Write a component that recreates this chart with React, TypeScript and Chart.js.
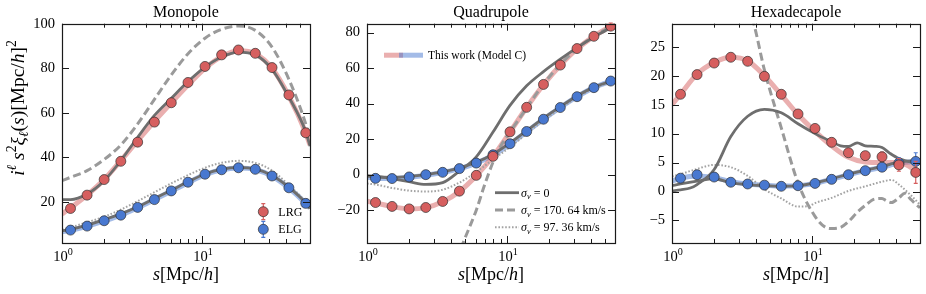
import React, { useEffect, useRef } from 'react';
import { Chart, registerables } from 'chart.js';

Chart.register(...registerables);

const SERIF = '"Liberation Serif", "DejaVu Serif", "Times New Roman", serif';

// ---------- separation bins (s in Mpc/h) ----------
const S_BINS = [1.15, 1.51, 2.0, 2.63, 3.47, 4.57, 6.03, 7.94, 10.5, 13.8, 18.2, 24.0, 31.6, 41.7, 55.0];
const S_CURVE = [1.0, 1.15, 1.51, 2.0, 2.63, 3.47, 4.57, 6.03, 7.94, 10.5, 13.8, 18.2, 24.0, 31.6, 41.7, 55.0, 59.0];

// ---------- Monopole ----------
const MONO_LRG_DATA = [17.0, 23.0, 30.0, 38.2, 46.8, 55.8, 64.5, 73.6, 80.8, 86.0, 88.2, 86.7, 80.3, 68.0, 51.0];
const MONO_LRG_ERR = [0.6, 0.6, 0.6, 0.6, 0.6, 0.6, 0.7, 0.7, 0.7, 0.8, 0.8, 0.9, 1.0, 1.1, 1.3];
const MONO_ELG_DATA = [7.3, 9.1, 11.5, 14.0, 17.5, 21.0, 24.9, 28.8, 32.4, 34.4, 35.3, 34.6, 31.6, 26.3, 19.3];
const MONO_ELG_ERR = [0.3, 0.3, 0.3, 0.3, 0.3, 0.3, 0.4, 0.4, 0.4, 0.4, 0.5, 0.5, 0.6, 0.8, 1.4];
const MONO_LRG_MODEL = [14.5, 17.3, 23.0, 30.0, 38.5, 47.5, 56.2, 64.5, 72.5, 80.0, 85.2, 87.8, 86.5, 80.0, 67.5, 51.0, 45.5];
const MONO_ELG_MODEL = [6.5, 7.2, 9.0, 11.4, 14.0, 17.3, 21.0, 24.8, 28.6, 32.2, 34.4, 35.2, 34.5, 31.5, 26.2, 19.3, 17.2];
const MONO_LRG_SV0 = [21.0, 21.0, 23.5, 29.5, 38.5, 49.0, 58.8, 66.5, 74.0, 80.5, 85.0, 87.2, 86.0, 79.5, 67.0, 51.5, 45.0];
const MONO_ELG_SV0 = [7.0, 7.6, 9.5, 12.0, 14.6, 17.8, 21.5, 25.2, 29.0, 32.5, 34.7, 35.5, 34.8, 31.8, 26.5, 19.5, 17.0];
const MONO_LRG_SV170 = [29.5, 31.0, 34.0, 39.0, 45.5, 55.0, 66.0, 77.0, 86.5, 93.5, 97.5, 99.0, 97.0, 89.5, 75.0, 55.0, 48.0];
const MONO_ELG_SV97 = [7.5, 8.5, 10.8, 13.3, 16.5, 20.3, 24.3, 28.3, 32.0, 35.3, 37.5, 38.4, 37.5, 34.0, 27.5, 20.0, 17.5];

// ---------- Quadrupole ----------
const QUAD_LRG_DATA = [-15.7, -17.9, -19.3, -18.5, -15.1, -9.3, -0.4, 10.3, 24.1, 37.9, 50.8, 61.7, 71.0, 77.9, 83.6];
const QUAD_LRG_ERR = [0.8, 0.8, 0.8, 0.8, 0.8, 0.8, 0.9, 0.9, 1.0, 1.0, 1.1, 1.2, 1.3, 1.5, 1.8];
const QUAD_ELG_DATA = [-2.1, -2.2, -1.3, 0.0, 1.3, 3.4, 6.5, 11.2, 17.4, 24.3, 31.2, 37.8, 43.9, 49.0, 52.7];
const QUAD_ELG_ERR = [0.5, 0.5, 0.5, 0.5, 0.5, 0.5, 0.6, 0.6, 0.6, 0.7, 0.7, 0.8, 0.9, 1.0, 1.3];
const QUAD_LRG_MODEL = [-15.0, -15.9, -18.0, -19.3, -18.6, -15.3, -9.5, -0.6, 10.3, 24.0, 37.8, 50.6, 61.6, 70.8, 77.9, 83.6, 85.0];
const QUAD_ELG_MODEL = [-1.5, -2.0, -2.2, -1.5, -0.3, 1.2, 3.4, 6.5, 11.0, 17.2, 24.2, 31.2, 37.8, 43.9, 49.0, 52.6, 53.4];
const QUAD_LRG_SV0 = [-0.5, -1.0, -2.3, -4.0, -5.5, -4.5, 2.0, 10.0, 24.0, 39.0, 50.0, 58.0, 65.0, 71.5, 77.5, 83.0, 85.0];
const QUAD_ELG_SV0 = [-0.8, -1.2, -1.5, -1.0, 0.0, 1.5, 3.8, 7.0, 11.5, 17.8, 24.7, 31.8, 38.3, 44.3, 49.3, 52.5, 53.3];
const QUAD_ELG_SV97 = [-5.0, -5.6, -7.5, -9.0, -9.5, -8.5, -4.5, 1.5, 8.5, 15.5, 23.0, 30.5, 37.0, 43.5, 48.5, 52.0, 52.6];
const QUAD_SV170_S = [4.4, 4.85, 5.5, 6.03, 6.9, 7.94, 9.0, 10.5, 13.8, 18.2, 24.0, 31.6, 41.7, 55.0, 59.0];
const QUAD_LRG_SV170 = [-48.0, -38.5, -28.0, -20.0, -6.0, 7.0, 16.0, 24.0, 37.5, 51.0, 62.0, 71.0, 78.0, 83.5, 85.0];

// ---------- Hexadecapole ----------
const HEXA_LRG_DATA = [16.8, 20.2, 22.2, 23.2, 22.5, 19.9, 16.8, 13.4, 10.9, 8.5, 6.7, 6.2, 6.0, 4.6, 3.3];
const HEXA_LRG_ERR = [0.4, 0.4, 0.4, 0.4, 0.4, 0.4, 0.4, 0.5, 0.5, 0.6, 0.6, 0.7, 0.8, 1.1, 1.9];
const HEXA_ELG_DATA = [2.3, 2.9, 2.5, 1.6, 1.3, 1.1, 0.9, 1.0, 1.4, 2.1, 2.9, 3.6, 4.2, 4.9, 5.2];
const HEXA_ELG_ERR = [0.3, 0.3, 0.3, 0.3, 0.3, 0.3, 0.3, 0.3, 0.3, 0.4, 0.4, 0.5, 0.6, 0.9, 1.5];
const HEXA_LRG_MODEL = [15.0, 16.8, 20.3, 22.3, 23.2, 22.6, 20.0, 16.7, 13.3, 10.4, 7.9, 5.9, 5.1, 5.0, 5.0, 3.6, 3.0];
const HEXA_ELG_MODEL = [1.8, 2.3, 2.7, 2.4, 1.7, 1.3, 1.1, 0.95, 1.0, 1.4, 2.1, 2.9, 3.6, 4.2, 4.9, 5.2, 5.3];
const HEXA_ELG_SV0 = [1.0, 1.3, 1.8, 2.2, 1.5, 1.2, 1.0, 0.9, 1.0, 1.5, 2.2, 3.0, 3.7, 4.3, 5.1, 5.3, 5.3];
const HEXA_LRG_SV0_S = [1.0, 1.15, 1.35, 1.51, 2.0, 2.63, 3.47, 4.57, 6.03, 7.94, 10.5, 13.8, 16.0, 18.2, 21.0, 24.0, 28.0, 31.6, 36.0, 41.7, 55.0, 59.0];
const HEXA_LRG_SV0 = [0.1, 0.3, 0.6, 1.2, 3.8, 9.5, 13.0, 14.2, 13.6, 11.7, 10.0, 8.6, 7.9, 7.8, 8.4, 7.9, 7.8, 7.6, 6.6, 5.7, 4.9, 4.8];
const HEXA_SV170_S = [3.5, 3.84, 4.57, 6.03, 7.94, 10.5, 12.5, 13.8, 16.0, 18.2, 21.0, 24.0, 28.0, 31.6, 34.0, 37.0, 41.7, 46.0, 50.0, 55.0, 59.0];
const HEXA_LRG_SV170 = [32.0, 29.0, 21.0, 11.0, 1.5, -4.3, -6.2, -6.4, -6.2, -5.2, -3.6, -2.4, -1.3, -1.2, -1.6, -1.9, -1.1, -0.3, -1.2, -2.2, -2.8];
const HEXA_SV97_S = [1.0, 1.15, 1.51, 2.0, 2.63, 3.47, 4.57, 6.03, 7.94, 9.5, 10.5, 13.8, 18.2, 24.0, 31.6, 37.0, 41.7, 50.0, 55.0, 59.0];
const HEXA_ELG_SV97 = [2.6, 3.0, 3.9, 4.6, 4.2, 2.7, 0.4, -1.2, -2.6, -2.5, -2.0, -1.1, 0.1, 0.9, 1.7, 2.0, 1.2, -0.5, -1.5, -2.3];

// ---------- labels ----------
const PANEL_TITLES = ['Monopole', 'Quadrupole', 'Hexadecapole'];
const TRACER_LABELS = ['LRG', 'ELG'];
const MODEL_LABEL = 'This work (Model C)';
const SIGMA_VALUES = ['0', '170. 64 km/s', '97. 36 km/s'];

// ---------- styles ----------
const RED = '#D65F5F';
const BLUE = '#4878D0';
const RED_BAND = 'rgba(214,95,95,0.5)';
const BLUE_BAND = 'rgba(72,120,208,0.5)';
const GRAY_SOLID = '#6e6e6e';
const GRAY_DASH = '#9a9a9a';
const GRAY_DOT = '#a3a3a3';
const EDGE = 'rgba(45,45,45,0.85)';

type Kind = 'red' | 'blue' | 'solid' | 'dash' | 'dot';

function xy(xs: number[], ys: number[]) {
  return xs.map((x, i) => ({ x, y: ys[i] }));
}

function lineStyle(kind: Kind) {
  switch (kind) {
    case 'red': return { borderColor: RED_BAND, borderWidth: 5, borderDash: [] as number[], order: 2 };
    case 'blue': return { borderColor: BLUE_BAND, borderWidth: 5, borderDash: [] as number[], order: 2 };
    case 'solid': return { borderColor: GRAY_SOLID, borderWidth: 2.8, borderDash: [] as number[], order: 1 };
    case 'dash': return { borderColor: GRAY_DASH, borderWidth: 3, borderDash: [8, 4], order: 1 };
    default: return { borderColor: GRAY_DOT, borderWidth: 2, borderDash: [1.6, 1.8], order: 1 };
  }
}

function curve(label: string, xs: number[], ys: number[], kind: Kind) {
  return {
    label,
    data: xy(xs, ys),
    showLine: true,
    pointRadius: 0,
    pointHoverRadius: 0,
    fill: false,
    cubicInterpolationMode: 'monotone',
    borderCapStyle: 'butt',
    ...lineStyle(kind),
  };
}

function points(label: string, ys: number[], errs: number[], color: string) {
  return {
    label,
    data: xy(S_BINS, ys),
    showLine: false,
    pointRadius: 5,
    pointHoverRadius: 5,
    pointBackgroundColor: color,
    pointBorderColor: EDGE,
    pointBorderWidth: 0.8,
    errors: errs,
    errColor: color,
    order: 0,
  };
}

type Seg = { t: string; it?: boolean; sup?: boolean; sub?: boolean };

function segSize(s: Seg, size: number) {
  return s.sup || s.sub ? size * 0.7 : size;
}
function segFont(s: Seg, size: number) {
  return `${s.it ? 'italic ' : ''}${segSize(s, size)}px ${SERIF}`;
}
function measureRich(ctx: CanvasRenderingContext2D, segs: Seg[], size: number) {
  let w = 0;
  for (const s of segs) {
    ctx.font = segFont(s, size);
    w += ctx.measureText(s.t).width;
  }
  return w;
}
function drawRich(ctx: CanvasRenderingContext2D, segs: Seg[], x: number, y: number, size: number, align: 'left' | 'center') {
  ctx.save();
  ctx.textBaseline = 'alphabetic';
  ctx.textAlign = 'left';
  ctx.fillStyle = '#000';
  let cx = align === 'center' ? x - measureRich(ctx, segs, size) / 2 : x;
  for (const s of segs) {
    ctx.font = segFont(s, size);
    const dy = s.sup ? -size * 0.4 : s.sub ? size * 0.22 : 0;
    ctx.fillText(s.t, cx, y + dy);
    cx += ctx.measureText(s.t).width;
  }
  ctx.restore();
}

const X_LABEL: Seg[] = [{ t: 's', it: true }, { t: '[Mpc/' }, { t: 'h', it: true }, { t: ']' }];
const Y_LABEL: Seg[] = [
  { t: 'i', it: true }, { t: 'ℓ', it: true, sup: true }, { t: ' ' },
  { t: 's', it: true }, { t: '2', sup: true },
  { t: 'ξ', it: true }, { t: 'ℓ', it: true, sub: true },
  { t: '(' }, { t: 's', it: true }, { t: ')' },
  { t: '[Mpc/' }, { t: 'h', it: true }, { t: ']' }, { t: '2', sup: true },
];

function drawMarker(ctx: CanvasRenderingContext2D, x: number, y: number, color: string) {
  ctx.save();
  ctx.strokeStyle = color;
  ctx.lineWidth = 1.2;
  ctx.beginPath();
  ctx.moveTo(x, y - 8); ctx.lineTo(x, y + 8);
  ctx.moveTo(x - 2, y - 8); ctx.lineTo(x + 2, y - 8);
  ctx.moveTo(x - 2, y + 8); ctx.lineTo(x + 2, y + 8);
  ctx.stroke();
  ctx.beginPath();
  ctx.arc(x, y, 5, 0, Math.PI * 2);
  ctx.fillStyle = color;
  ctx.fill();
  ctx.strokeStyle = EDGE;
  ctx.lineWidth = 0.8;
  ctx.stroke();
  ctx.restore();
}

function sampleLine(ctx: CanvasRenderingContext2D, x0: number, x1: number, y: number, kind: Kind) {
  const st = lineStyle(kind);
  ctx.save();
  ctx.strokeStyle = st.borderColor;
  ctx.lineWidth = st.borderWidth;
  ctx.setLineDash(st.borderDash);
  ctx.lineCap = 'butt';
  ctx.beginPath();
  ctx.moveTo(x0, y);
  ctx.lineTo(x1, y);
  ctx.stroke();
  ctx.restore();
}

const decoPlugin = {
  id: 'panelDeco',
  beforeDatasetDraw(chart: any, args: any) {
    const ds: any = chart.data.datasets[args.index];
    if (!ds.errors) return;
    const ctx: CanvasRenderingContext2D = chart.ctx;
    const ys = chart.scales.y;
    ctx.save();
    ctx.strokeStyle = ds.errColor;
    ctx.lineWidth = 1.2;
    args.meta.data.forEach((pt: any, j: number) => {
      const v = ds.data[j].y;
      const e = ds.errors[j];
      const y1 = ys.getPixelForValue(v - e);
      const y2 = ys.getPixelForValue(v + e);
      ctx.beginPath();
      ctx.moveTo(pt.x, y1); ctx.lineTo(pt.x, y2);
      ctx.moveTo(pt.x - 2, y1); ctx.lineTo(pt.x + 2, y1);
      ctx.moveTo(pt.x - 2, y2); ctx.lineTo(pt.x + 2, y2);
      ctx.stroke();
    });
    ctx.restore();
  },
  afterDraw(chart: any, _args: any, opts: any) {
    const ctx: CanvasRenderingContext2D = chart.ctx;
    const ca = chart.chartArea;
    const xs = chart.scales.x;
    const ys = chart.scales.y;
    ctx.save();
    // frame
    ctx.strokeStyle = '#1a1a1a';
    ctx.lineWidth = 1.2;
    ctx.strokeRect(Math.round(ca.left) + 0.5, Math.round(ca.top) + 0.5, Math.round(ca.right - ca.left), Math.round(ca.bottom - ca.top));
    // x ticks (inward, bottom & top)
    ctx.lineWidth = 1;
    ctx.beginPath();
    const majors: number[] = [];
    for (const t of xs.ticks) {
      const v = t.value;
      if (v < xs.min - 1e-9 || v > xs.max + 1e-9) continue;
      const p10 = Math.pow(10, Math.floor(Math.log10(v) + 1e-9));
      const m = v / p10;
      if (Math.abs(m - Math.round(m)) > 1e-6) continue;
      const major = Math.round(m) === 1;
      if (major) majors.push(v);
      const len = major ? 7 : 4;
      const px = Math.round(xs.getPixelForValue(v)) + 0.5;
      ctx.moveTo(px, ca.bottom); ctx.lineTo(px, ca.bottom - len);
      ctx.moveTo(px, ca.top); ctx.lineTo(px, ca.top + len);
    }
    // y ticks (inward, left & right)
    for (const t of ys.ticks) {
      const py = Math.round(ys.getPixelForValue(t.value)) + 0.5;
      ctx.moveTo(ca.left, py); ctx.lineTo(ca.left + 7, py);
      ctx.moveTo(ca.right, py); ctx.lineTo(ca.right - 7, py);
    }
    ctx.stroke();
    ctx.restore();

    // x tick labels 10^n
    for (const v of majors) {
      const ex = Math.round(Math.log10(v));
      drawRich(ctx, [{ t: '10' }, { t: String(ex), sup: true }], xs.getPixelForValue(v) + 1, ca.bottom + 18, 14.5, 'center');
    }
    // x axis title
    drawRich(ctx, X_LABEL, (ca.left + ca.right) / 2, ca.bottom + 37, 18, 'center');

    // y axis title
    if (opts.yLabel) {
      ctx.save();
      ctx.translate(24, 108);
      ctx.rotate(-Math.PI / 2);
      drawRich(ctx, Y_LABEL, 0, 0, 19.5, 'center');
      ctx.restore();
    }

    if (opts.legend === 'tracers') {
      const colors = [RED, BLUE];
      const rows = [188, 205.6];
      TRACER_LABELS.forEach((lab, i) => {
        const y = ca.top + rows[i];
        drawMarker(ctx, ca.left + 201.3, y, colors[i]);
        drawRich(ctx, [{ t: lab }], ca.left + 216.3, y + 4, 12, 'left');
      });
    }
    if (opts.legend === 'models') {
      const y0 = ca.top + 31.5;
      sampleLine(ctx, ca.left + 17, ca.left + 36, y0, 'red');
      sampleLine(ctx, ca.left + 32, ca.left + 56, y0, 'blue');
      drawRich(ctx, [{ t: MODEL_LABEL }], ca.left + 61, y0 + 4, 11.5, 'left');
      const kinds: Kind[] = ['solid', 'dash', 'dot'];
      const rows = [169, 186.3, 203.6];
      SIGMA_VALUES.forEach((val, i) => {
        const y = ca.top + rows[i];
        sampleLine(ctx, ca.left + 128, ca.left + 152, y, kinds[i]);
        drawRich(ctx, [{ t: 'σ', it: true }, { t: 'v', it: true, sub: true }, { t: ' = ' + val }], ca.left + 154, y + 4, 12, 'left');
      });
    }
  },
};

interface PanelSpec {
  title: string;
  canvasLeft: number;
  canvasWidth: number;
  axisWidth: number;
  padRight: number;
  yMin: number;
  yMax: number;
  yStep: number;
  yLabel: boolean;
  legend: string;
  datasets: any[];
}

const PANELS: PanelSpec[] = [
  {
    title: PANEL_TITLES[0], canvasLeft: 0, canvasWidth: 318, axisWidth: 62, padRight: 8,
    yMin: 1.5, yMax: 100, yStep: 20, yLabel: true, legend: 'tracers',
    datasets: [
      points('LRG', MONO_LRG_DATA, MONO_LRG_ERR, RED),
      points('ELG', MONO_ELG_DATA, MONO_ELG_ERR, BLUE),
      curve('LRG σv=0', S_CURVE, MONO_LRG_SV0, 'solid'),
      curve('ELG σv=0', S_CURVE, MONO_ELG_SV0, 'solid'),
      curve('LRG σv=170.64', S_CURVE, MONO_LRG_SV170, 'dash'),
      curve('ELG σv=97.36', S_CURVE, MONO_ELG_SV97, 'dot'),
      curve('LRG model', S_CURVE, MONO_LRG_MODEL, 'red'),
      curve('ELG model', S_CURVE, MONO_ELG_MODEL, 'blue'),
    ],
  },
  {
    title: PANEL_TITLES[1], canvasLeft: 318, canvasWidth: 304, axisWidth: 49, padRight: 7,
    yMin: -38.5, yMax: 85, yStep: 20, yLabel: false, legend: 'models',
    datasets: [
      points('LRG', QUAD_LRG_DATA, QUAD_LRG_ERR, RED),
      points('ELG', QUAD_ELG_DATA, QUAD_ELG_ERR, BLUE),
      curve('LRG σv=0', S_CURVE, QUAD_LRG_SV0, 'solid'),
      curve('ELG σv=0', S_CURVE, QUAD_ELG_SV0, 'solid'),
      curve('LRG σv=170.64', QUAD_SV170_S, QUAD_LRG_SV170, 'dash'),
      curve('ELG σv=97.36', S_CURVE, QUAD_ELG_SV97, 'dot'),
      curve('LRG model', S_CURVE, QUAD_LRG_MODEL, 'red'),
      curve('ELG model', S_CURVE, QUAD_ELG_MODEL, 'blue'),
    ],
  },
  {
    title: PANEL_TITLES[2], canvasLeft: 622, canvasWidth: 304, axisWidth: 50, padRight: 6,
    yMin: -8.9, yMax: 29, yStep: 5, yLabel: false, legend: 'none',
    datasets: [
      points('LRG', HEXA_LRG_DATA, HEXA_LRG_ERR, RED),
      points('ELG', HEXA_ELG_DATA, HEXA_ELG_ERR, BLUE),
      curve('LRG σv=0', HEXA_LRG_SV0_S, HEXA_LRG_SV0, 'solid'),
      curve('ELG σv=0', S_CURVE, HEXA_ELG_SV0, 'solid'),
      curve('LRG σv=170.64', HEXA_SV170_S, HEXA_LRG_SV170, 'dash'),
      curve('ELG σv=97.36', HEXA_SV97_S, HEXA_ELG_SV97, 'dot'),
      curve('LRG model', S_CURVE, HEXA_LRG_MODEL, 'red'),
      curve('ELG model', S_CURVE, HEXA_ELG_MODEL, 'blue'),
    ],
  },
];

function buildConfig(spec: PanelSpec): any {
  return {
    type: 'scatter',
    data: { datasets: spec.datasets },
    options: {
      animation: false,
      responsive: false,
      maintainAspectRatio: false,
      events: [],
      layout: { padding: { left: 0, right: spec.padRight, top: 0, bottom: 0 } },
      plugins: {
        legend: { display: false },
        tooltip: { enabled: false },
        title: {
          display: true,
          text: spec.title,
          fullSize: false,
          color: '#000',
          font: { family: SERIF, size: 16, weight: 'normal', lineHeight: 1.2 },
          padding: { top: 3.5, bottom: 1 },
        },
        panelDeco: { yLabel: spec.yLabel, legend: spec.legend },
      },
      scales: {
        x: {
          type: 'logarithmic',
          min: 1,
          max: 59,
          grid: { display: false, drawTicks: false },
          border: { display: false },
          ticks: { display: false },
          afterFit: (s: any) => { s.height = 51; },
        },
        y: {
          type: 'linear',
          min: spec.yMin,
          max: spec.yMax,
          grid: { display: false, drawTicks: false },
          border: { display: false },
          ticks: {
            stepSize: spec.yStep,
            includeBounds: false,
            padding: 7,
            color: '#000',
            font: { family: SERIF, size: 14.5 },
            callback: (v: any) => String(v).replace('-', '\u2212'),
          },
          afterFit: (s: any) => { s.width = spec.axisWidth; },
        },
      },
    },
    plugins: [decoPlugin],
  };
}

function Panel({ spec }: { spec: PanelSpec }) {
  const ref = useRef<HTMLCanvasElement>(null);
  useEffect(() => {
    if (!ref.current) return;
    const chart = new Chart(ref.current, buildConfig(spec));
    return () => chart.destroy();
  }, [spec]);
  return (
    <canvas
      ref={ref}
      width={spec.canvasWidth}
      height={294}
      style={{ position: 'absolute', left: spec.canvasLeft, top: 0, width: spec.canvasWidth, height: 294 }}
    />
  );
}

export default function App() {
  return (
    <div style={{ position: 'absolute', left: 0, top: 0, width: 926, height: 294, background: '#fff' }}>
      {PANELS.map((p) => (
        <Panel key={p.title} spec={p} />
      ))}
    </div>
  );
}
